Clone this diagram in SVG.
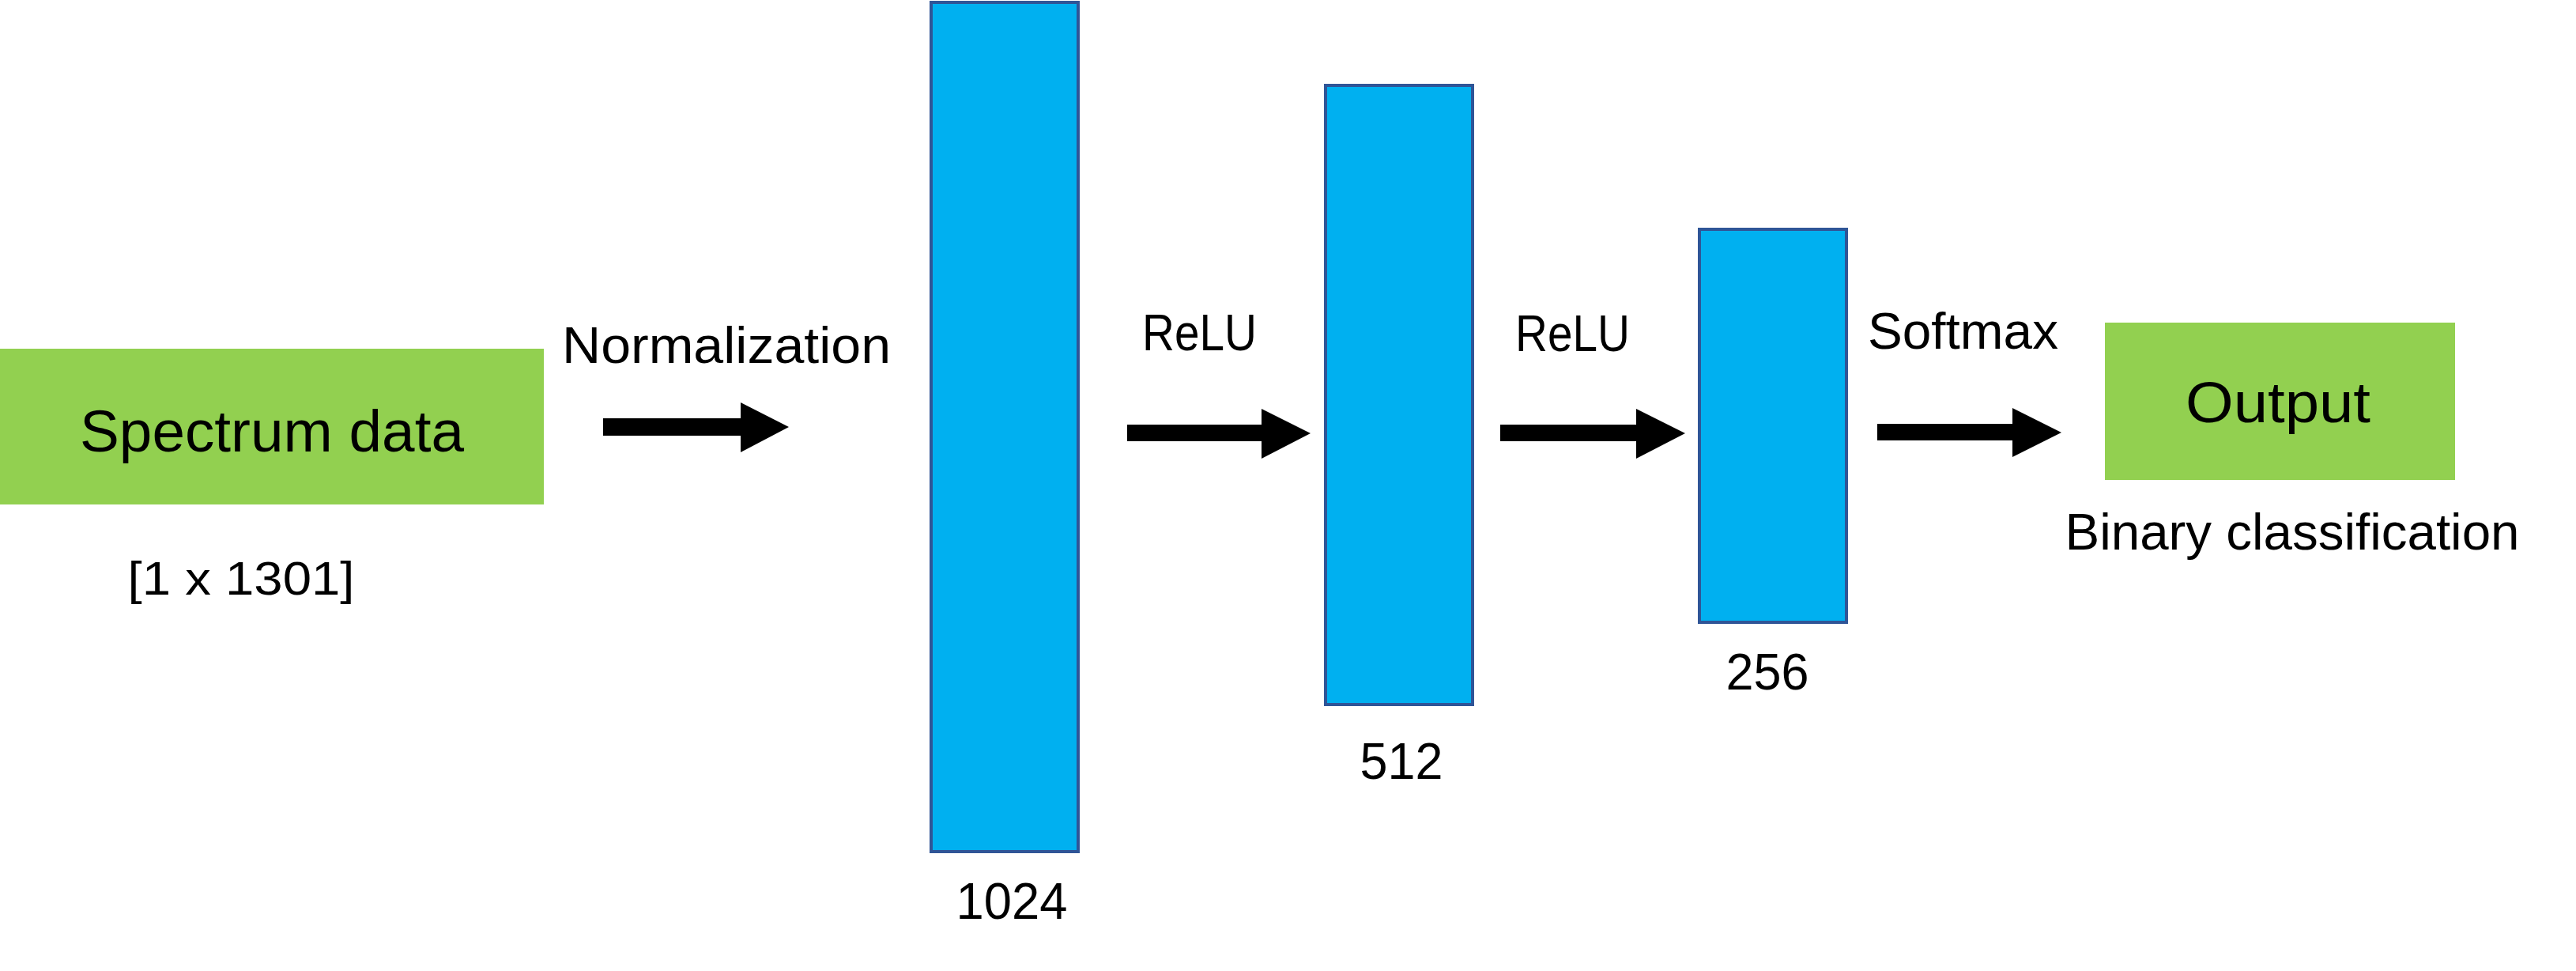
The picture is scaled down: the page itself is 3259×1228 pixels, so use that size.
<svg xmlns="http://www.w3.org/2000/svg" width="3259" height="1228" viewBox="0 0 3259 1228">
<style>
.io{fill:#92D050;}
.layer{fill:#00B0F0;stroke:#2F5597;stroke-width:4;}
.t{font-family:"Liberation Sans",Arial,sans-serif;fill:#000;}
.big{font-size:74px;}
.lbl{font-size:64px;}
.arrow{fill:#000;}
</style>
<rect width="3259" height="1228" fill="#fff"/>
<g id="input">
<rect class="io" x="0" y="441" width="688" height="197"/>
<text class="t big" x="344" y="571" text-anchor="middle" textLength="486" lengthAdjust="spacingAndGlyphs">Spectrum data</text>
<text class="t lbl" x="305" y="752" text-anchor="middle" font-size="60" style="font-size:60px" textLength="287" lengthAdjust="spacingAndGlyphs">[1 x 1301]</text>
</g>
<g id="dense1024">
<rect class="layer" x="1178" y="3" width="186" height="1074"/>
<text class="t lbl" x="1280" y="1162" text-anchor="middle" textLength="141" lengthAdjust="spacingAndGlyphs">1024</text>
</g>
<g id="dense512">
<rect class="layer" x="1677" y="108" width="186" height="783"/>
<text class="t lbl" x="1773" y="985" text-anchor="middle" textLength="105" lengthAdjust="spacingAndGlyphs">512</text>
</g>
<g id="dense256">
<rect class="layer" x="2150" y="290" width="186" height="497"/>
<text class="t lbl" x="2236" y="872" text-anchor="middle" textLength="105" lengthAdjust="spacingAndGlyphs">256</text>
</g>
<g id="output">
<rect class="io" x="2663" y="408" width="443" height="199"/>
<text class="t big" x="2882" y="534" text-anchor="middle" style="font-size:72px" textLength="234" lengthAdjust="spacingAndGlyphs">Output</text>
<text class="t lbl" x="2900" y="695" text-anchor="middle" textLength="575" lengthAdjust="spacingAndGlyphs">Binary classification</text>
</g>
<g id="connectors">
<polygon class="arrow" points="763,529 937,529 937,509 998,540 937,572 937,551 763,551"/>
<text class="t lbl" x="711" y="459" textLength="416" lengthAdjust="spacingAndGlyphs">Normalization</text>
<polygon class="arrow" points="1426,537 1596,537 1596,517 1658,548 1596,580 1596,558 1426,558"/>
<text class="t lbl" x="1445" y="443" textLength="145" lengthAdjust="spacingAndGlyphs">ReLU</text>
<polygon class="arrow" points="1898,537 2070,537 2070,517 2132,548 2070,580 2070,558 1898,558"/>
<text class="t lbl" x="1917" y="444" textLength="145" lengthAdjust="spacingAndGlyphs">ReLU</text>
<polygon class="arrow" points="2375,536 2546,536 2546,516 2608,547 2546,578 2546,557 2375,557"/>
<text class="t lbl" x="2363" y="441" textLength="241" lengthAdjust="spacingAndGlyphs">Softmax</text>
</g>
</svg>
